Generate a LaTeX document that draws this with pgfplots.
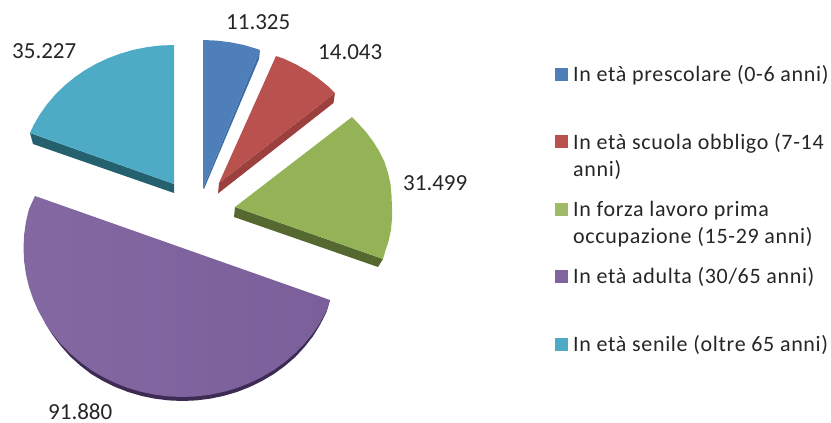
\documentclass[border=0pt]{standalone}
\usepackage{fontspec}
\setmainfont{Carlito}
\newfontfamily\legfont[LetterSpace=3.1]{Carlito}
\usepackage{pgfplots}
\pgfplotsset{compat=1.18}
\definecolor{cblue}{HTML}{4F7FB8}
\definecolor{cblued}{HTML}{3F6CA5}
\definecolor{cred}{HTML}{B9514E}
\definecolor{credd}{HTML}{9C403D}
\definecolor{cgreen}{HTML}{94B356}
\definecolor{cgreend}{HTML}{55682F}
\definecolor{cpurple}{HTML}{7F649E}
\definecolor{cpurplel}{HTML}{8368A2}
\definecolor{cpurpler}{HTML}{7B5F9A}
\definecolor{cpurpled}{HTML}{3E2B54}
\definecolor{cteal}{HTML}{4EABC5}
\definecolor{cteald}{HTML}{25606F}
\definecolor{ctext}{HTML}{262626}
\tikzset{
    lab/.style={anchor=base west, inner sep=0pt, text=ctext, font=\fontsize{23}{24}\selectfont},
    leg/.style={anchor=base west, inner sep=0pt, text=ctext, font=\legfont\fontsize{22}{24}\selectfont},
}
\begin{document}
\begin{tikzpicture}
\begin{axis}[
    scale only axis,
    width=831pt, height=423pt,
    xmin=0, xmax=831, ymin=0, ymax=423,
    y dir=reverse,
    hide axis,
    clip=false,
    every axis plot/.append style={draw=none, mark=none},
]
% sides
\addplot[fill=cteald] coordinates {(30,133) (33,144) (174,193) (174,184)};
\addplot[fill=cblued] coordinates {(260,50) (259,59) (204,189) (203,188)};
\addplot[fill=credd] coordinates {(335,93) (333.5,103) (218,193.5) (219,183)};
\addplot[fill=cgreend] coordinates {(235,207) (234,217) (378,267) (383,259)};
\addplot[fill=cpurpled] coordinates {
 (330,300) (326.6,312) (320.2,324.5) (312.8,336.5) (304.3,347.3) (294.9,357.4) (284.7,366.1)
 (273.7,374.1) (262,381) (249.7,387) (236.9,392) (223.6,395.9) (210.1,398.7) (196.4,400.4)
 (182.5,401) (168.6,400.4) (154.9,398.7) (141.4,395.9) (128.1,392) (115.3,387) (103,381)
 (91.3,374.1) (80.3,365.6) (70.1,356.4) (60.7,345.8) (52.2,334.5) (44.8,322.5)};
% tops
\addplot[fill=cteal] coordinates {
 (174,184) (174,45) (160.5,45.5) (147.1,47.1) (133.9,49.7) (121,53.4) (108.5,58) (96.5,63.6)
 (85.1,70.1) (74.4,77.5) (64.4,85.7) (55.3,94.6) (47,104.3) (39.8,114.5) (33.5,125.3) (30,133)};
\addplot[fill=cblue] coordinates {
 (203,188) (203,40) (216.8,40.6) (230.4,42.3) (243.9,45) (257,48.9) (260,50)};
\addplot[fill=cred] coordinates {
 (219,183) (276,56) (284.1,58.8) (296,64.4) (307.3,70.8) (318,78.1) (327.9,86.1) (335,93)};
\addplot[fill=cgreen] coordinates {
 (235,207) (352,117) (357,122.1) (365.4,131.3) (372.8,141) (379.2,151.2) (384.5,161.9)
 (388,173) (390.5,184) (391.5,195.5) (392,207) (392,218.5) (391,230) (388.5,241.2) (385,252) (383,259)};
\addplot[left color=cpurplel, right color=cpurpler] coordinates {
 (330,300) (326.6,311) (320.2,322.5) (312.8,333.5) (304.3,343.8) (294.9,353.4) (284.7,362.1)
 (273.7,370.1) (262,377) (249.7,383) (236.9,388) (223.6,391.9) (210.1,394.7) (196.4,396.4)
 (182.5,397) (168.6,396.4) (154.9,394.7) (141.4,391.9) (128.1,388) (115.3,383) (103,377)
 (91.3,370.1) (80.3,362.1) (70.1,353.4) (60.7,343.8) (52.2,333.5) (44.8,322.5) (38.4,311)
 (33.1,299) (28.9,286.6) (25.9,273.9) (24.1,261) (23.5,248) (24.1,235) (25.9,222.1) (28.9,209.4) (35,196)};
% legend swatches
\addplot[only marks, mark=square*, mark size=6pt, color=cblue] coordinates {(561.5,74)};
\addplot[only marks, mark=square*, mark size=6pt, color=cred] coordinates {(561.5,141.5)};
\addplot[only marks, mark=square*, mark size=6pt, color=cgreen!90!white] coordinates {(561.5,209)};
\addplot[only marks, mark=square*, mark size=6pt, color=cpurple] coordinates {(561.5,276)};
\addplot[only marks, mark=square*, mark size=6pt, color=cteal] coordinates {(561.5,344)};
% data labels
\node[lab] at (axis cs:226,29) {11.325};
\node[lab] at (axis cs:318,59) {14.043};
\node[lab] at (axis cs:403,190) {31.499};
\node[lab] at (axis cs:48,419) {91.880};
\node[lab] at (axis cs:12,58) {35.227};
% legend text
\node[leg] at (axis cs:573,81.5) {In età prescolare (0-6 anni)};
\node[leg] at (axis cs:573,149) {In età scuola obbligo (7-14};
\node[leg] at (axis cs:573,176) {anni)};
\node[leg] at (axis cs:573,216) {In forza lavoro prima};
\node[leg] at (axis cs:573,243) {occupazione (15-29 anni)};
\node[leg] at (axis cs:573,283) {In età adulta (30/65 anni)};
\node[leg] at (axis cs:573,351) {In età senile (oltre 65 anni)};
\end{axis}
\pgfresetboundingbox
\path[use as bounding box] (0,0) rectangle (831pt,423pt);
\end{tikzpicture}
\end{document}
